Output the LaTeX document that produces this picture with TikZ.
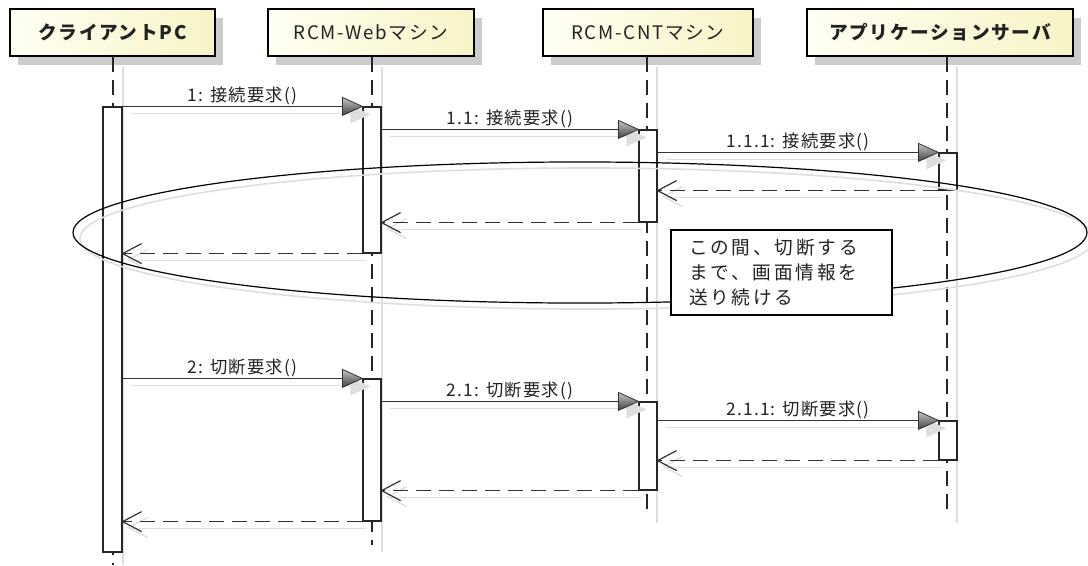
\documentclass[tikz,border=0pt]{standalone}
\usepackage{fontspec}
\setmainfont{Noto Sans CJK JP}
\newfontfamily\jpH[LetterSpace=9]{Noto Sans CJK JP}
\newfontfamily\jpL[LetterSpace=7]{Noto Sans CJK JP}
\newfontfamily\jpN[LetterSpace=15]{Noto Sans CJK JP}
\usetikzlibrary{calc,fit,shadows}
\definecolor{hdrL}{HTML}{FFFFF4}
\definecolor{hdrR}{HTML}{F8F3C6}
\definecolor{shd}{HTML}{CCCCCC}
\definecolor{lshd}{HTML}{DEDEDE}
\definecolor{txt}{HTML}{222222}
\newcommand\callmsg[3]{%
  \draw[mshadow] ($(#1)+(8,7)$) -- ($(#2)+(-12,7)$);
  \fill[tipshadow] ($(#2)+(8,8)$) -- ++(-20,-9) -- ++(0,18) -- cycle;
  \draw[msgline] (#1) -- (#2) node[msglabel, midway, above] {#3};
  \shade[tipshade] (#2) -- ++(-20,-9) -- ++(0,18) -- cycle;
}
\newcommand\retmsg[2]{%
  \draw[mshadow] ($(#1)+(4,7)$) -- ($(#2)+(8,7)$);
  \draw[mshadow] ($(#2)+(25,-4)$) -- ($(#2)+(6,6)$) -- ($(#2)+(25,16)$);
  \draw[retline] (#1) -- (#2);
  \draw[msgline] ($(#2)+(19,-10)$) -- (#2) -- ($(#2)+(19,10)$);
}
\begin{document}
\begin{tikzpicture}[x=0.75pt,y=-0.75pt,
  header/.style={draw=black, line width=2.2pt, left color=hdrL, right color=hdrR,
    minimum height=35.25pt, inner sep=0pt, text=txt,
    font=\jpH\fontsize{14pt}{16pt}\selectfont,
    drop shadow={shadow xshift=6pt, shadow yshift=-7pt, fill=shd, opacity=1}},
  bar/.style={draw=black!85, fill=white, line width=0.9pt, inner sep=0pt},
  lifeline/.style={draw=black!85, line width=1.2pt, dash pattern=on 11.25pt off 6pt},
  lshadow/.style={draw=lshd, line width=1pt},
  msgline/.style={draw=black!80, line width=0.9pt},
  retline/.style={msgline, dash pattern=on 11.25pt off 6pt},
  mshadow/.style={draw=lshd, line width=1pt},
  tipshade/.style={top color=gray!45, bottom color=black!75, draw=black!80, line width=0.6pt},
  tipshadow/.style={fill=lshd},
  msglabel/.style={font=\jpL\fontsize{13pt}{15pt}\selectfont, text=txt, inner sep=1pt},
  note/.style={draw=black, line width=2.2pt, fill=white, align=left, text width=138.75pt,
    inner xsep=13.5pt, minimum height=63.75pt, text=txt,
    font=\jpN\fontsize{14pt}{18.75pt}\selectfont},
  ell/.style={draw=black, line width=0.9pt},
  ellshadow/.style={draw=lshd, line width=1.2pt}
]
\fill[white] (0,0) rectangle (1088,565);
\useasboundingbox (0,0) rectangle (1088,565);

% headers
\node[header, minimum width=153.75pt] (hc) at (112.5,32.5) {\bfseries クライアントPC};
\node[header, minimum width=154.5pt] (hw) at (371,32.5) {RCM-Webマシン};
\node[header, minimum width=157.5pt] (hn) at (648,32.5) {RCM-CNTマシン};
\node[header, minimum width=199.5pt] (ha) at (940,32.5) {\bfseries アプリケーションサーバ};

% lifeline ends
\coordinate (cE) at (113,565);
\coordinate (wE) at (372,545);
\coordinate (nE) at (647,516);
\coordinate (aE) at (947,516);

% lifeline shadows
\draw[lshadow] ($(hc.south -| cE)+(10,10)$) -- ($(cE)+(10,0)$);
\draw[lshadow] ($(hw.south -| wE)+(10,10)$) -- ($(wE)+(10,7)$);
\draw[lshadow] ($(hn.south -| nE)+(10,10)$) -- ($(nE)+(10,7)$);
\draw[lshadow] ($(ha.south -| aE)+(10,10)$) -- ($(aE)+(10,7)$);

% lifelines
\draw[lifeline] (hc.south -| cE) -- (cE);
\draw[lifeline] (hw.south -| wE) -- (wE);
\draw[lifeline] (hn.south -| nE) -- (nE);
\draw[lifeline] (ha.south -| aE) -- (aE);

% activation bars
\node[bar, fit={(103,107) (122,552)}] (cb) {};
\node[bar, fit={(363,107) (381,253)}] (wb1) {};
\node[bar, fit={(363,379) (381,521)}] (wb2) {};
\node[bar, fit={(639,130) (657,222)}] (nb1) {};
\node[bar, fit={(639,402) (657,490)}] (nb2) {};
\node[bar, fit={(939,153) (957,190)}] (ab1) {};
\node[bar, fit={(939,421) (957,460)}] (ab2) {};

% message end points
\coordinate (m11s) at (wb1.east |- nb1.north);
\coordinate (m111s) at (nb1.east |- ab1.north);
\coordinate (r1e) at (nb1.east |- ab1.south);
\coordinate (r2e) at (wb1.east |- nb1.south);
\coordinate (r3e) at (cb.east |- wb1.south);
\coordinate (m2s) at (cb.east |- wb2.north);
\coordinate (m21s) at (wb2.east |- nb2.north);
\coordinate (m211s) at (nb2.east |- ab2.north);
\coordinate (r4e) at (nb2.east |- ab2.south);
\coordinate (r5e) at (wb2.east |- nb2.south);
\coordinate (r6e) at (cb.east |- wb2.south);

% messages
\callmsg{cb.north east}{wb1.north west}{1: 接続要求()}
\callmsg{m11s}{nb1.north west}{1.1: 接続要求()}
\callmsg{m111s}{ab1.north west}{1.1.1: 接続要求()}
\retmsg{ab1.south west}{r1e}
\retmsg{nb1.south west}{r2e}
\retmsg{wb1.south west}{r3e}
\callmsg{m2s}{wb2.north west}{2: 切断要求()}
\callmsg{m21s}{nb2.north west}{2.1: 切断要求()}
\callmsg{m211s}{ab2.north west}{2.1.1: 切断要求()}
\retmsg{ab2.south west}{r4e}
\retmsg{nb2.south west}{r5e}
\retmsg{wb2.south west}{r6e}

% loop ellipse
\draw[ellshadow] (587,238.5) ellipse [x radius=380.25pt, y radius=52.9pt];
\draw[ell] (580,232.5) ellipse [x radius=380.25pt, y radius=52.9pt];

% note
\node[note] (nt) at (781.5,272.5) {この間、切断する\\まで、画面情報を\\送り続ける};
\end{tikzpicture}
\end{document}
